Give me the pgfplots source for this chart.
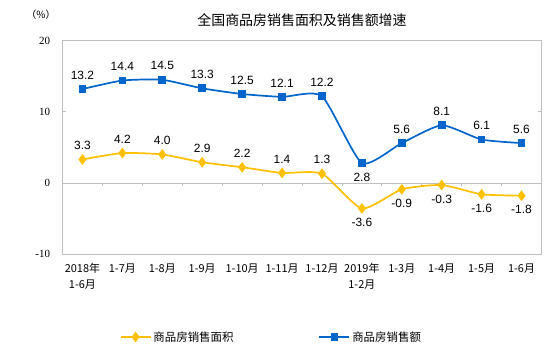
\documentclass[border=0pt]{standalone}
\usepackage{fontspec}
\setmainfont{Liberation Sans}
\newfontfamily\cjk{Noto Sans CJK SC}
\newfontfamily\numserif{Liberation Serif}
\usepackage{pgfplots}
\usepackage{pgfplotstable}
\pgfplotsset{compat=1.18}
\definecolor{cyel}{HTML}{FFC000}
\definecolor{cblue}{HTML}{0066CC}
\definecolor{cgrid}{HTML}{BFBFBF}
\pgfplotstableread{
x y pos
0 3.3 1
1 4.2 1
2 4.0 1
3 2.9 1
4 2.2 1
5 1.4 1
6 1.3 1
7 -3.6 -1
8 -0.9 -1
9 -0.3 -1
10 -1.6 -1
11 -1.8 -1
}\area
\pgfplotstableread{
x y pos
0 13.2 1
1 14.4 1
2 14.5 1
3 13.3 1
4 12.5 1
5 12.1 1
6 12.2 1
7 2.8 -1
8 5.6 1
9 8.1 1
10 6.1 1
11 5.6 1
}\amount
\begin{document}
\begin{tikzpicture}
\useasboundingbox (-62.5bp,-104bp) rectangle (491.5bp,254bp);
\begin{axis}[
  scale only axis,
  width=479bp, height=213.3bp,
  xmin=-0.5, xmax=11.5,
  ymin=-10, ymax=20,
  ytick={-10,0,10,20},
  xtick={0,...,11},
  xticklabels={{2018年\\1-6月},1-7月,1-8月,1-9月,1-10月,1-11月,1-12月,{2019年\\1-2月},1-3月,1-4月,1-5月,1-6月},
  xticklabel style={font=\cjk\fontsize{11}{16}\selectfont, align=center, yshift=-6bp},
  yticklabel style={font=\numserif\fontsize{11}{13}\selectfont, xshift=-9bp},
  /pgf/number format/assume math mode=true,
  x tick style={draw=none},
  y tick style={draw=cgrid, line width=0.8bp},
  tick align=inside,
  major tick length=4bp,
  axis line style={draw=cgrid, line width=0.8bp},
  extra y ticks={0},
  extra y tick labels={},
  extra y tick style={grid=major, major grid style={draw=cgrid, line width=0.8bp}},
  legend columns=2,
  legend style={draw=none, fill=none, at={(0.436,-0.389)}, anchor=center,
     font=\cjk\fontsize{11.5}{14}\selectfont,
     /tikz/every even column/.append style={column sep=83bp},
     /tikz/every odd column/.append style={column sep=0bp}},
  legend image code/.code={\draw[mark repeat=2,mark phase=2] plot coordinates {(0bp,0bp)(15bp,0bp)(30bp,0bp)};},
  nodes near coords,
  point meta=explicit,
  visualization depends on={\thisrow{pos} \as \lpos},
  nodes near coords style={font=\fontsize{12}{14}\selectfont, text=black, anchor=center, yshift=\lpos*14bp,
     /pgf/number format/.cd, fixed, fixed zerofill, precision=1},
  clip=false,
]
\pgfplotsinvokeforeach{0.5,1.5,...,10.5}{\draw[cgrid, line width=0.8bp] (axis cs:#1,0) -- ([yshift=-3bp]axis cs:#1,0);}
\addplot[cyel, line width=1.7bp, smooth, tension=0.35, mark=diamond*, mark size=4bp, mark options={solid}]
  table[x=x, y=y, meta=y] {\area};
\addlegendentry{商品房销售面积}
\addplot[cblue, line width=1.7bp, smooth, tension=0.35, mark=square*, mark size=3bp, mark options={solid}]
  table[x=x, y=y, meta=y] {\amount};
\addlegendentry{商品房销售额}
\node[font=\cjk\fontsize{14}{16}\selectfont] at (rel axis cs:0.5,1.097) {全国商品房销售面积及销售额增速};
\node[font=\cjk\fontsize{10}{12}\selectfont] at (rel axis cs:-0.045,1.12) {（\%）};
\end{axis}
\end{tikzpicture}
\end{document}
